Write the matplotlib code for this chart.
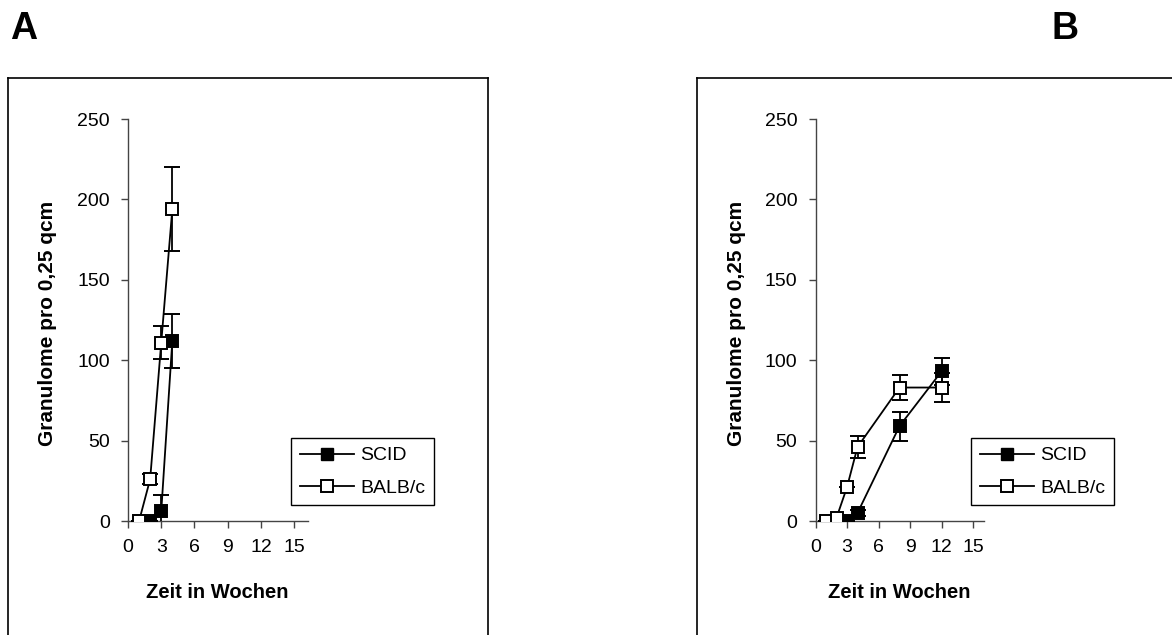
import matplotlib.pyplot as plt
from matplotlib.lines import Line2D

plt.rcParams['font.family'] = ['Liberation Sans', 'DejaVu Sans']

# weeks and granuloma counts (mean, error)
a_scid_x = [2, 3, 4]
a_scid_y = [0, 6, 112]
a_scid_err = [0, 10, 17]
a_balb_x = [1, 2, 3, 4]
a_balb_y = [0, 26, 111, 194]
a_balb_err = [0, 3, 10, 26]

b_scid_x = [2, 3, 4, 8, 12]
b_scid_y = [0, 0, 5, 59, 93]
b_scid_err = [0, 0, 2, 9, 8.5]
b_balb_x = [1, 2, 3, 4, 8, 12]
b_balb_y = [0, 2, 21, 46, 83, 83]
b_balb_err = [0, 0, 0, 7, 8, 9]

x_ticks = [0, 3, 6, 9, 12, 15]
y_ticks = [0, 50, 100, 150, 200, 250]
labels = ['SCID', 'BALB/c']

W, H = 1172, 635
fig = plt.figure(figsize=(W / 100, H / 100), dpi=100)


def fx(px):
    return px / W


def fy(py):
    return 1 - py / H


def panel(left, right, xmax, sx, sy, se, bx, by, be, leg_left):
    ax = fig.add_axes([fx(left), fy(521), fx(right - left), (521 - 119) / H])
    ax.errorbar(sx, sy, yerr=se, fmt='s-', color='black', mfc='black', mec='black',
                ms=9, mew=1.4, lw=1.3, capsize=5.5, elinewidth=1.3, capthick=1.3, zorder=3)
    ax.errorbar(bx, by, yerr=be, fmt='s-', color='black', mfc='white', mec='black',
                ms=9, mew=1.4, lw=1.3, capsize=5.5, elinewidth=1.3, capthick=1.3, zorder=4)
    ax.set_xlim(0, xmax)
    ax.set_ylim(0, 250)
    ax.set_xticks(x_ticks)
    ax.set_yticks(y_ticks)
    for s in ['top', 'right']:
        ax.spines[s].set_visible(False)
    for s in ['left', 'bottom']:
        ax.spines[s].set_color('#444444')
        ax.spines[s].set_linewidth(1.0)
    ax.tick_params(direction='out', length=5, width=1.0, color='#444444',
                   labelsize=14, pad=8)
    for sp in ax.spines.values():
        sp.set_clip_on(False)
    ax.patch.set_alpha(0)

    handles = [Line2D([], [], color='black', marker='s', mfc='black', mec='black', ms=9, lw=1.3),
               Line2D([], [], color='black', marker='s', mfc='white', mec='black', ms=8.5, lw=1.3, mew=1.4)]
    leg = ax.legend(handles, labels, loc='upper left',
                    bbox_to_anchor=(fx(leg_left), fy(438)), bbox_transform=fig.transFigure,
                    borderaxespad=0, fancybox=False, framealpha=1, edgecolor='black',
                    fontsize=14, handlelength=2.8, handletextpad=0.3, labelspacing=0.75,
                    borderpad=0.45)
    leg.get_frame().set_linewidth(1.0)

    cx = (left + right) / 2
    fig.text(fx(cx), fy(593), 'Zeit in Wochen', ha='center', va='center',
             fontsize=14.5, fontweight='bold')
    return ax


panel(128, 307.5, 16.2, a_scid_x, a_scid_y, a_scid_err, a_balb_x, a_balb_y, a_balb_err, 291)
panel(815.5, 983.5, 16, b_scid_x, b_scid_y, b_scid_err, b_balb_x, b_balb_y, b_balb_err, 971)

ylab = 'Granulome pro 0,25 qcm'
fig.text(fx(48), fy(323), ylab, rotation=90, ha='center', va='center',
         fontsize=15, fontweight='bold')
fig.text(fx(737), fy(323), ylab, rotation=90, ha='center', va='center',
         fontsize=15, fontweight='bold')

fig.text(fx(10), fy(39), 'A', fontsize=27, fontweight='bold', va='baseline')
fig.text(fx(1052), fy(39), 'B', fontsize=27, fontweight='bold', va='baseline')

# chart-area borders
frame = dict(color='black', lw=1.2, transform=fig.transFigure)
fig.add_artist(Line2D([fx(8), fx(8)], [fy(78), fy(640)], **frame))
fig.add_artist(Line2D([fx(488), fx(488)], [fy(78), fy(640)], **frame))
fig.add_artist(Line2D([fx(8), fx(488)], [fy(78), fy(78)], **frame))
fig.add_artist(Line2D([fx(697), fx(697)], [fy(78), fy(640)], **frame))
fig.add_artist(Line2D([fx(697), fx(1180)], [fy(78), fy(78)], **frame))

fig.savefig('out.png', dpi=100)
